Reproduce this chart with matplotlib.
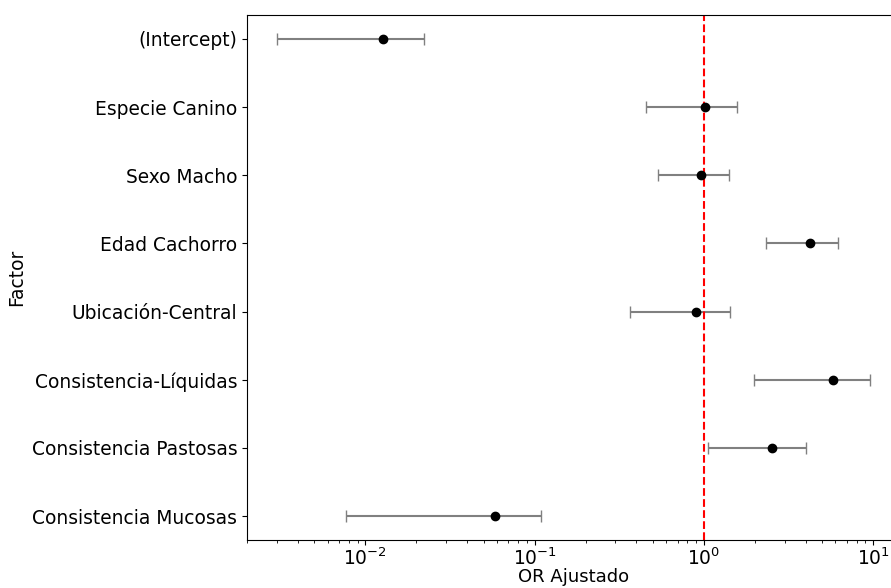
import numpy as np
import matplotlib
matplotlib.use("Agg")
import matplotlib.pyplot as plt

# factors, top to bottom
factores = ["(Intercept)", "Especie Canino", "Sexo Macho", "Edad Cachorro",
            "Ubicación-Central", "Consistencia-Líquidas", "Consistencia Pastosas",
            "Consistencia Mucosas"]
or_ajustado = [0.0127, 1.02, 0.967, 4.25, 0.894, 5.81, 2.54, 0.0586]
ic_inf = [0.00299, 0.457, 0.536, 2.34, 0.367, 1.97, 1.06, 0.00767]
ic_sup = [0.0222, 1.57, 1.40, 6.22, 1.42, 9.57, 4.00, 0.109]

or_ajustado = np.array(or_ajustado)
err = [or_ajustado - np.array(ic_inf), np.array(ic_sup) - or_ajustado]
y = np.arange(len(factores))

plt.rcParams['font.size'] = 13.4

fig = plt.figure(figsize=(8.91, 5.88), dpi=100)
ax = fig.add_axes([0.2772, 0.0816, 0.7323, 0.8929])

ax.errorbar(or_ajustado, y, xerr=err, fmt='o', color='black', ecolor='gray',
            markersize=6, elinewidth=1.5, capsize=4)
ax.axvline(1, color='red', linestyle='--', linewidth=1.5)

ax.set_xscale('log')
ax.set_yticks(y)
ax.set_yticklabels(factores)
ax.invert_yaxis()
ax.tick_params(axis='x', pad=2)
ax.set_xlabel('OR Ajustado', labelpad=-1, fontsize=13)
ax.set_ylabel('Factor')

fig.savefig('out.png', dpi=100)
